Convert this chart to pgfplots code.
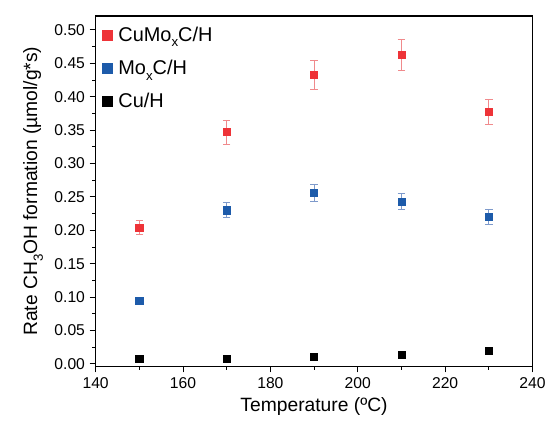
\documentclass[border=0pt]{standalone}
\usepackage{fontspec}
\setmainfont{Liberation Sans}
\usepackage{pgfplots}
\pgfplotsset{compat=1.18}

\definecolor{cured}{HTML}{EE3338}
\definecolor{curederr}{HTML}{F08A8C}
\definecolor{moblue}{HTML}{1D5BAA}
\definecolor{moblueerr}{HTML}{7E9ACB}
% lowered subscript, as in the original figure
\newcommand{\lowsub}[1]{\raisebox{-0.55ex}{\fontsize{10}{10}\selectfont #1}}

\begin{document}
\begin{tikzpicture}
\begin{axis}[
  at={(0,0)}, anchor=south west,
  scale only axis,
  width=329pt, height=264pt,
  xmin=140, xmax=240,
  ymin=-0.004, ymax=0.521,
  xtick={140,160,180,200,220,240},
  ytick={0,0.05,0.10,0.15,0.20,0.25,0.30,0.35,0.40,0.45,0.50},
  minor x tick num=1, minor y tick num=1,
  tick pos=left, tick align=outside,
  major tick length=4.5pt, minor tick length=2.5pt,
  every tick/.style={black, line width=0.7pt},
  axis line style={line width=0.9pt},
  /pgf/number format/assume math mode=true,
  yticklabel style={/pgf/number format/.cd, fixed, fixed zerofill, precision=2},
  ticklabel style={font=\fontsize{11.8}{13}\selectfont},
  xlabel={Temperature (ºC)},
  ylabel={Rate CH\lowsub{3}OH formation (µmol/g*s)},
  label style={font=\fontsize{14.5}{17}\selectfont},
  xlabel style={at={(axis description cs:0.5,-0.114)}, anchor=center},
  ylabel style={at={(axis description cs:-0.143,0.5)}, anchor=center},
  legend style={at={(0.005,0.985)}, anchor=north west, draw=none, fill=none,
    font=\fontsize{15}{18}\selectfont, row sep=8.5pt,
    /tikz/every odd column/.append style={column sep=2.5pt}},
  legend cell align=left,
  legend image post style={mark size=3.9pt},
  legend image code/.code={\draw[#1] plot coordinates {(0.25cm,0cm)};},
]
\addplot[only marks, mark=square*, mark size=2.7pt, color=cured,
  error bars/.cd, y dir=both, y explicit,
  error bar style={color=curederr, line width=0.7pt},
  error mark options={rotate=90, mark size=2.8pt, color=curederr, line width=0.7pt}]
  table[x=t, y=r, y error=e] {
  t   r      e
  150 0.204  0.011
  170 0.347  0.018
  190 0.433  0.022
  210 0.463  0.023
  230 0.377  0.019
};
\addlegendentry{CuMo\lowsub{x}C/H}
\addplot[only marks, mark=square*, mark size=2.7pt, color=moblue,
  error bars/.cd, y dir=both, y explicit,
  error bar style={color=moblueerr, line width=0.7pt},
  error mark options={rotate=90, mark size=2.8pt, color=moblueerr, line width=0.7pt}]
  table[x=t, y=r, y error=e] {
  t   r      e
  150 0.095  0.001
  170 0.230  0.011
  190 0.256  0.013
  210 0.243  0.012
  230 0.220  0.011
};
\addlegendentry{Mo\lowsub{x}C/H}
\addplot[only marks, mark=square*, mark size=2.7pt, color=black]
  table[x=t, y=r] {
  t   r
  150 0.008
  170 0.008
  190 0.0104
  210 0.0139
  230 0.019
};
\addlegendentry{Cu/H}
\end{axis}
\path (-72pt,-42pt) rectangle (340.5pt,276pt);
\end{tikzpicture}
\end{document}
